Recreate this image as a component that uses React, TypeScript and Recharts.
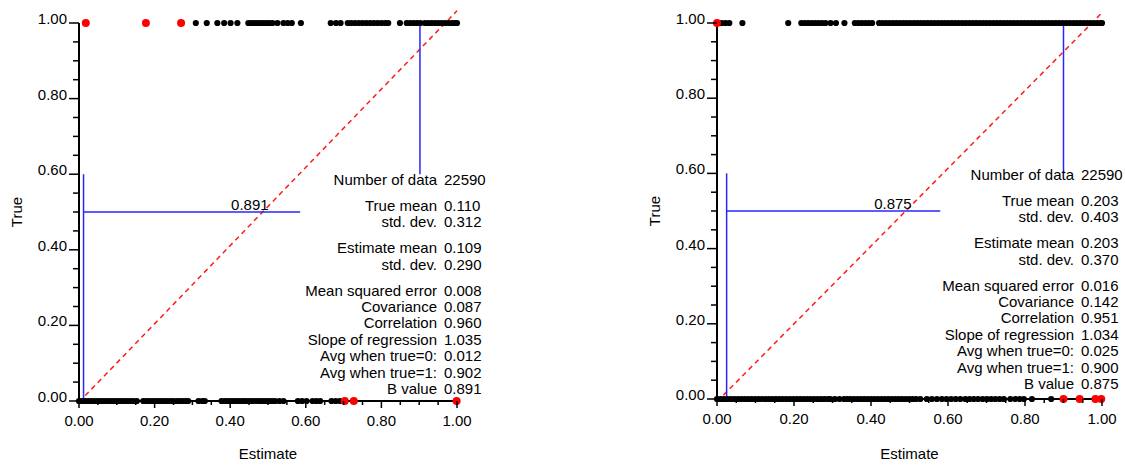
import React from 'react';
import { ScatterChart, Scatter, XAxis, YAxis, ReferenceLine, ReferenceDot } from 'recharts';

// axis ticks (every 0.05, labelled every 0.2)
const allTicks = [0, 0.05, 0.1, 0.15, 0.2, 0.25, 0.3, 0.35, 0.4, 0.45, 0.5, 0.55, 0.6, 0.65, 0.7, 0.75, 0.8, 0.85, 0.9, 0.95, 1];
const majorTicks = [0, 0.2, 0.4, 0.6, 0.8, 1];

const statLabels = [
  'Number of data',
  'True mean',
  'std. dev.',
  'Estimate mean',
  'std. dev.',
  'Mean squared error',
  'Covariance',
  'Correlation',
  'Slope of regression',
  'Avg when true=0:',
  'Avg when true=1:',
  'B value',
];
const statGroups = [0, 1, 1, 2, 2, 3, 3, 3, 3, 3, 3, 3];

const leftStats = ['22590', '0.110', '0.312', '0.109', '0.290', '0.008', '0.087', '0.960', '1.035', '0.012', '0.902', '0.891'];
const rightStats = ['22590', '0.203', '0.403', '0.203', '0.370', '0.016', '0.142', '0.951', '1.034', '0.025', '0.900', '0.875'];

// estimates of cases whose true value is 1 / 0 (black: classified right, red: wrong side)
const leftTrueOne = [0.309, 0.338, 0.366, 0.384, 0.401, 0.419, 0.448, 0.456, 0.464, 0.472, 0.48, 0.488, 0.496, 0.504, 0.512, 0.525, 0.541, 0.552, 0.563, 0.587, 0.666, 0.68, 0.692, 0.711, 0.72, 0.73, 0.74, 0.75, 0.76, 0.77, 0.78, 0.79, 0.8, 0.81, 0.818, 0.849, 0.867, 0.876, 0.885, 0.894, 0.903, 0.915, 0.924, 0.933, 0.942, 0.951, 0.96, 0.969, 0.978, 0.987, 0.995, 1.0];
const leftTrueOneMiss = [0.018, 0.177, 0.27];
const leftTrueZero = [0, 0.008, 0.016, 0.024, 0.032, 0.04, 0.048, 0.056, 0.064, 0.072, 0.08, 0.088, 0.096, 0.104, 0.112, 0.12, 0.128, 0.136, 0.144, 0.153, 0.17, 0.178, 0.186, 0.194, 0.202, 0.21, 0.218, 0.226, 0.234, 0.242, 0.249, 0.258, 0.266, 0.274, 0.282, 0.289, 0.316, 0.326, 0.333, 0.377, 0.385, 0.393, 0.401, 0.408, 0.416, 0.424, 0.432, 0.439, 0.447, 0.455, 0.463, 0.471, 0.479, 0.487, 0.495, 0.503, 0.511, 0.519, 0.53, 0.541, 0.579, 0.59, 0.602, 0.618, 0.628, 0.638, 0.668, 0.679, 0.69];
const leftTrueZeroMiss = [0.703, 0.727, 0.999];

const rightTrueOne = [0.012, 0.022, 0.032, 0.066, 0.185, 0.219, 0.228, 0.237, 0.246, 0.255, 0.264, 0.273, 0.282, 0.295, 0.309, 0.331, 0.358, 0.367, 0.376, 0.385, 0.394, 0.403, 0.421, 0.43, 0.439, 0.448, 0.457, 0.466, 0.475, 0.484, 0.493, 0.502, 0.511, 0.52, 0.529, 0.538, 0.547, 0.556, 0.565, 0.574, 0.583, 0.592, 0.601, 0.61, 0.619, 0.628, 0.637, 0.646, 0.655, 0.664, 0.673, 0.682, 0.691, 0.7, 0.709, 0.718, 0.727, 0.736, 0.745, 0.754, 0.763, 0.772, 0.781, 0.79, 0.799, 0.808, 0.817, 0.826, 0.835, 0.844, 0.853, 0.862, 0.871, 0.88, 0.889, 0.898, 0.907, 0.916, 0.925, 0.934, 0.943, 0.952, 0.961, 0.97, 0.979, 0.988, 0.997, 1.0];
const rightTrueOneMiss = [0.0];
const rightTrueZero = [0, 0.009, 0.018, 0.027, 0.036, 0.045, 0.054, 0.063, 0.072, 0.081, 0.09, 0.099, 0.108, 0.117, 0.126, 0.135, 0.144, 0.153, 0.162, 0.171, 0.18, 0.189, 0.198, 0.207, 0.216, 0.225, 0.234, 0.243, 0.252, 0.261, 0.27, 0.279, 0.288, 0.294, 0.306, 0.318, 0.33, 0.338, 0.346, 0.355, 0.364, 0.373, 0.382, 0.391, 0.4, 0.409, 0.418, 0.427, 0.436, 0.445, 0.454, 0.463, 0.472, 0.481, 0.49, 0.499, 0.508, 0.517, 0.528, 0.545, 0.558, 0.571, 0.584, 0.596, 0.608, 0.62, 0.632, 0.645, 0.656, 0.667, 0.678, 0.69, 0.701, 0.712, 0.723, 0.734, 0.745, 0.762, 0.775, 0.786, 0.797, 0.818, 0.868];
const rightTrueZeroMiss = [0.9, 0.942, 0.983, 0.998];

const FONT = '"Liberation Sans", Arial, Helvetica, sans-serif';
const BLUE = '#2626ff';

const isMajor = (v: number) => majorTicks.some((m) => Math.abs(m - v) < 1e-6);
const toPoints = (xs: number[], y: number) => xs.map((x) => ({ x, y }));

const YTick = (props: any) => {
  const { x, y, payload } = props;
  const major = isMajor(payload.value);
  return (
    <g>
      <line x1={x - (major ? 10 : 6)} x2={x} y1={y} y2={y} stroke="#000" strokeWidth={1.5} />
      {major && (
        <text x={x - 12} y={y + 1} textAnchor="end" fontSize={15} fill="#000">
          {payload.value.toFixed(2)}
        </text>
      )}
    </g>
  );
};

const XTick = (props: any) => {
  const { x, y, payload } = props;
  const major = isMajor(payload.value);
  return (
    <g>
      <line x1={x} x2={x} y1={y} y2={y + (major ? 7 : 4)} stroke="#000" strokeWidth={1.5} />
      {major && (
        <text x={x} y={y + 25} textAnchor="middle" fontSize={15} fill="#000">
          {payload.value.toFixed(2)}
        </text>
      )}
    </g>
  );
};

const blackDot = (p: any) => <circle cx={p.cx} cy={p.cy} r={3.1} fill="#000" />;
const redDot = (p: any) => <circle cx={p.cx} cy={p.cy} r={4} fill="#ff0000" />;

interface PanelProps {
  left: number;
  width: number;
  margin: { top: number; right: number; bottom: number; left: number };
  xAxisHeight: number;
  trueOne: number[];
  trueOneMiss: number[];
  trueZero: number[];
  trueZeroMiss: number[];
  stats: string[];
  hLineEnd: number;
  bLabelX: number;
}

const Panel = ({ left, width, margin, xAxisHeight, trueOne, trueOneMiss, trueZero, trueZeroMiss, stats, hLineEnd, bLabelX }: PanelProps) => {
  const trueMean = parseFloat(stats[1]);
  const estMean = parseFloat(stats[3]);
  const slope = parseFloat(stats[8]);
  const avg0 = parseFloat(stats[9]);
  const avg1 = parseFloat(stats[10]);
  const intercept = trueMean - slope * estMean;

  return (
    <div style={{ position: 'absolute', left, top: 0 }}>
      <ScatterChart width={width} height={466} margin={margin}>
        <XAxis
          type="number"
          dataKey="x"
          domain={[0, 1]}
          ticks={allTicks}
          interval={0}
          tickSize={0}
          tickMargin={0}
          tickLine={false}
          tick={<XTick />}
          axisLine={{ stroke: '#000', strokeWidth: 2 }}
          height={xAxisHeight}
          label={{ value: 'Estimate', position: 'insideBottom', offset: 7, fill: '#000', fontSize: 15 }}
        />
        <YAxis
          type="number"
          dataKey="y"
          domain={[0, 1]}
          ticks={allTicks}
          interval={0}
          tickSize={0}
          tickMargin={0}
          tickLine={false}
          tick={<YTick />}
          axisLine={{ stroke: '#000', strokeWidth: 2 }}
          width={79}
          label={{ value: 'True', angle: -90, position: 'insideLeft', offset: 17, fill: '#000', fontSize: 15, style: { textAnchor: 'middle' } }}
        />
        <ReferenceLine
          segment={[{ x: 0, y: intercept }, { x: 1, y: slope + intercept }]}
          stroke="#ff1a1a"
          strokeWidth={1.5}
          strokeDasharray="5 4"
          ifOverflow="visible"
        />
        <ReferenceLine segment={[{ x: avg0, y: 0 }, { x: avg0, y: 0.6 }]} stroke={BLUE} strokeWidth={1.5} />
        <ReferenceLine segment={[{ x: avg0, y: 0.5 }, { x: hLineEnd, y: 0.5 }]} stroke={BLUE} strokeWidth={1.5} />
        <ReferenceLine segment={[{ x: avg1, y: 0.6 }, { x: avg1, y: 1 }]} stroke={BLUE} strokeWidth={1.5} />
        <ReferenceDot
          x={bLabelX}
          y={0.5}
          r={0}
          fill="none"
          stroke="none"
          label={{ value: stats[11], position: 'top', offset: 2, fill: '#000', fontSize: 15 }}
        />
        <Scatter data={toPoints(trueOne, 1)} shape={blackDot} isAnimationActive={false} />
        <Scatter data={toPoints(trueZero, 0)} shape={blackDot} isAnimationActive={false} />
        <Scatter data={toPoints(trueOneMiss, 1)} shape={redDot} isAnimationActive={false} />
        <Scatter data={toPoints(trueZeroMiss, 0)} shape={redDot} isAnimationActive={false} />
      </ScatterChart>
    </div>
  );
};

const StatsBlock = ({ labelRight, valueLeft, firstY, values }: { labelRight: number; valueLeft: number; firstY: number; values: string[] }) => (
  <>
    {statLabels.map((label, i) => {
      const top = firstY + i * 16.4 + statGroups[i] * 9.5 - 8;
      return (
        <React.Fragment key={i}>
          <div style={{ position: 'absolute', left: labelRight - 220, width: 220, top, textAlign: 'right', fontSize: 15, lineHeight: '16px', whiteSpace: 'nowrap' }}>
            {label}
          </div>
          <div style={{ position: 'absolute', left: valueLeft, top, fontSize: 15, lineHeight: '16px', whiteSpace: 'nowrap' }}>
            {values[i]}
          </div>
        </React.Fragment>
      );
    })}
  </>
);

export default function App() {
  return (
    <div style={{ position: 'absolute', left: 0, top: 0, width: 1125, height: 466, background: '#fff', fontFamily: FONT, color: '#000', overflow: 'hidden' }}>
      <Panel
        left={0}
        width={560}
        margin={{ top: 23, right: 103, bottom: 0, left: 0 }}
        xAxisHeight={65}
        trueOne={leftTrueOne}
        trueOneMiss={leftTrueOneMiss}
        trueZero={leftTrueZero}
        trueZeroMiss={leftTrueZeroMiss}
        stats={leftStats}
        hLineEnd={0.585}
        bLabelX={0.452}
      />
      <Panel
        left={560}
        width={565}
        margin={{ top: 23, right: 23, bottom: 0, left: 78 }}
        xAxisHeight={67}
        trueOne={rightTrueOne}
        trueOneMiss={rightTrueOneMiss}
        trueZero={rightTrueZero}
        trueZeroMiss={rightTrueZeroMiss}
        stats={rightStats}
        hLineEnd={0.58}
        bLabelX={0.457}
      />
      <StatsBlock labelRight={437} valueLeft={444} firstY={180} values={leftStats} />
      <StatsBlock labelRight={1074} valueLeft={1081} firstY={175} values={rightStats} />
    </div>
  );
}
